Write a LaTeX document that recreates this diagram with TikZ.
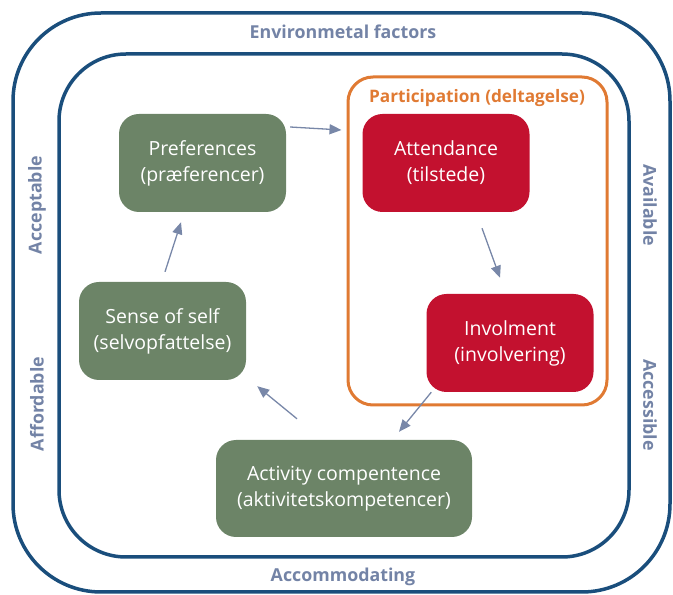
\documentclass[tikz,border=0pt]{standalone}
\usepackage{fontspec}
\setmainfont{Open Sans}
\usetikzlibrary{arrows.meta,calc}

\definecolor{ringblue}{HTML}{1A4E7C}
\definecolor{labelgray}{HTML}{7383A6}
\definecolor{boxgreen}{HTML}{6C8467}
\definecolor{boxred}{HTML}{C3112F}
\definecolor{partorange}{HTML}{E07A33}
\definecolor{arrowgray}{HTML}{7887A8}

\begin{document}
\begin{tikzpicture}[x=1pt,y=1pt,font=\fontsize{19.5}{26}\selectfont,
  box/.style={rounded corners=20pt,minimum width=167pt,minimum height=98pt,text=white,align=center,inner sep=2pt},
  greenbox/.style={box,fill=boxgreen},
  redbox/.style={box,fill=boxred},
  side/.style={text=labelgray,font=\fontsize{17.8}{20}\selectfont\bfseries},
  flow/.style={draw=arrowgray,line width=1.3pt,-{Triangle[length=12pt,width=10pt]}}]
\useasboundingbox (0,0) rectangle (673,595);
% outer and inner rings
\draw[ringblue,line width=3.5pt,rounded corners=88pt] (13,3) rectangle (670,582);
\draw[ringblue,line width=3.5pt,rounded corners=67pt] (59,38) rectangle (629,541);
\node[side] at (343,563) {Environmetal factors};
\node[side] at (343,18) {Accommodating};
\node[side,rotate=90] at (37,390) {Acceptable};
\node[side,rotate=90] at (37,191) {Affordable};
\node[side,rotate=-90] at (650,390) {Available};
\node[side,rotate=-90] at (650,190) {Accessible};
% participation frame
\node[draw=partorange,line width=3pt,rounded corners=25pt,minimum width=259pt,minimum height=328pt] (part) at (477.5,354) {};
\node[text=partorange,font=\fontsize{17.2}{19}\selectfont\bfseries] at (477,497) {Participation (deltagelse)};
% the five boxes
\node[greenbox] (pref) at (202.5,432) {Preferences\\(præferencer)};
\node[redbox] (att) at (446,432) {Attendance\\(tilstede)};
\node[redbox] (inv) at (510,252) {Involment\\(involvering)};
\node[greenbox] (sense) at (162.5,264) {Sense of self\\(selvopfattelse)};
\node[greenbox,minimum width=256pt,minimum height=97pt] (act) at (344,106.5) {Activity compentence\\(aktivitetskompetencer)};
% cycle
\draw[flow] ($(pref.east)+(4,36)$) -- ($(part.west)+(-5,111)$);
\draw[flow] ($(att.south)+(36,-16)$) -- ($(inv.north)+(-10,16)$);
\draw[flow] ($(inv.south west)+(5,0)$) -- ($(act.north)+(55,8)$);
\draw[flow] ($(act.north)+(-47,21)$) -- ($(sense.south east)+(11,-6)$);
\draw[flow] ($(sense.north)+(2.5,10)$) -- ($(pref.south)+(-21.5,-10)$);
\end{tikzpicture}
\end{document}
